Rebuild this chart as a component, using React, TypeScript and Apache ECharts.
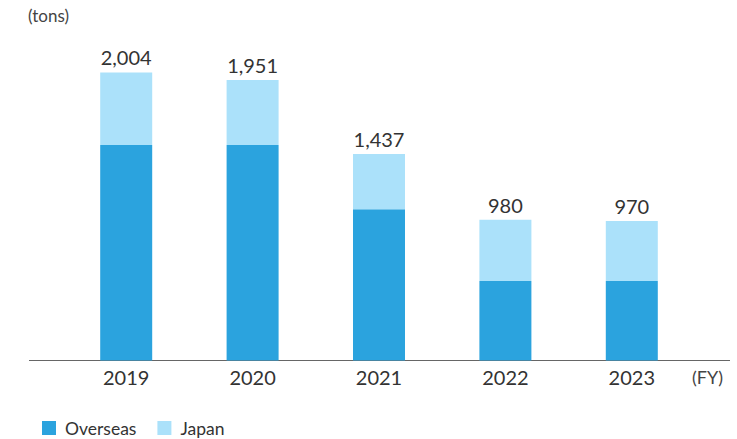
import React, { useEffect, useRef } from "react";
import * as echarts from "echarts";

const categories = ["2019", "2020", "2021", "2022", "2023"];
const overseas = [1500, 1500, 1052, 554, 554];
const japan = [504, 451, 385, 426, 416];
const totals = [2004, 1951, 1437, 980, 970];

export default function App() {
  const ref = useRef<HTMLDivElement>(null);
  useEffect(() => {
    const chart = echarts.init(ref.current!, null, { renderer: "svg" });
    const font = "Lato, 'Noto Sans', sans-serif";
    chart.setOption({
      animation: false,
      textStyle: { fontFamily: font },
      grid: { left: 63, right: 42, top: 40, bottom: 78.5 },
      xAxis: {
        type: "category",
        data: categories,
        axisLine: { show: false },
        axisTick: { show: false },
        axisLabel: { color: "#333", fontSize: 20, margin: 6, fontFamily: font },
      },
      yAxis: {
        type: "value",
        min: 0,
        max: 2230,
        show: false,
        splitLine: { show: false },
      },
      legend: {
        left: 42,
        top: 419,
        padding: 0,
        itemWidth: 14,
        itemHeight: 14,
        itemGap: 21,
        icon: "rect",
        textStyle: {
          color: "#333",
          fontSize: 17.5,
          lineHeight: 18,
          fontFamily: font,
          padding: [0, 0, 0, 4],
        },
        data: ["Overseas", "Japan"],
      },
      graphic: [
        {
          type: "line",
          shape: { x1: 29, y1: 360.5, x2: 730, y2: 360.5 },
          style: { stroke: "#666", lineWidth: 1.2 },
        },
        {
          type: "text",
          left: 28,
          top: 7,
          style: { text: "(tons)", fill: "#444", fontSize: 17, fontFamily: font },
        },
        {
          type: "text",
          left: 692,
          top: 368,
          style: { text: "(FY)", fill: "#444", fontSize: 18, fontFamily: font },
        },
      ],
      series: [
        {
          name: "Overseas",
          type: "bar",
          stack: "total",
          barWidth: 52,
          data: overseas,
          itemStyle: { color: "#2BA3DE" },
        },
        {
          name: "Japan",
          type: "bar",
          stack: "total",
          barWidth: 52,
          data: japan.map((v, i) => ({
            value: v,
            label: {
              show: true,
              position: "top",
              distance: 5,
              formatter: () => totals[i].toLocaleString("en-US"),
              color: "#333",
              fontSize: 20,
              fontFamily: font,
            },
          })),
          itemStyle: { color: "#ABE1FA" },
        },
      ],
    });
    return () => chart.dispose();
  }, []);
  return (
    <div
      ref={ref}
      style={{ position: "absolute", left: 0, top: 0, width: 737, height: 439 }}
    />
  );
}
